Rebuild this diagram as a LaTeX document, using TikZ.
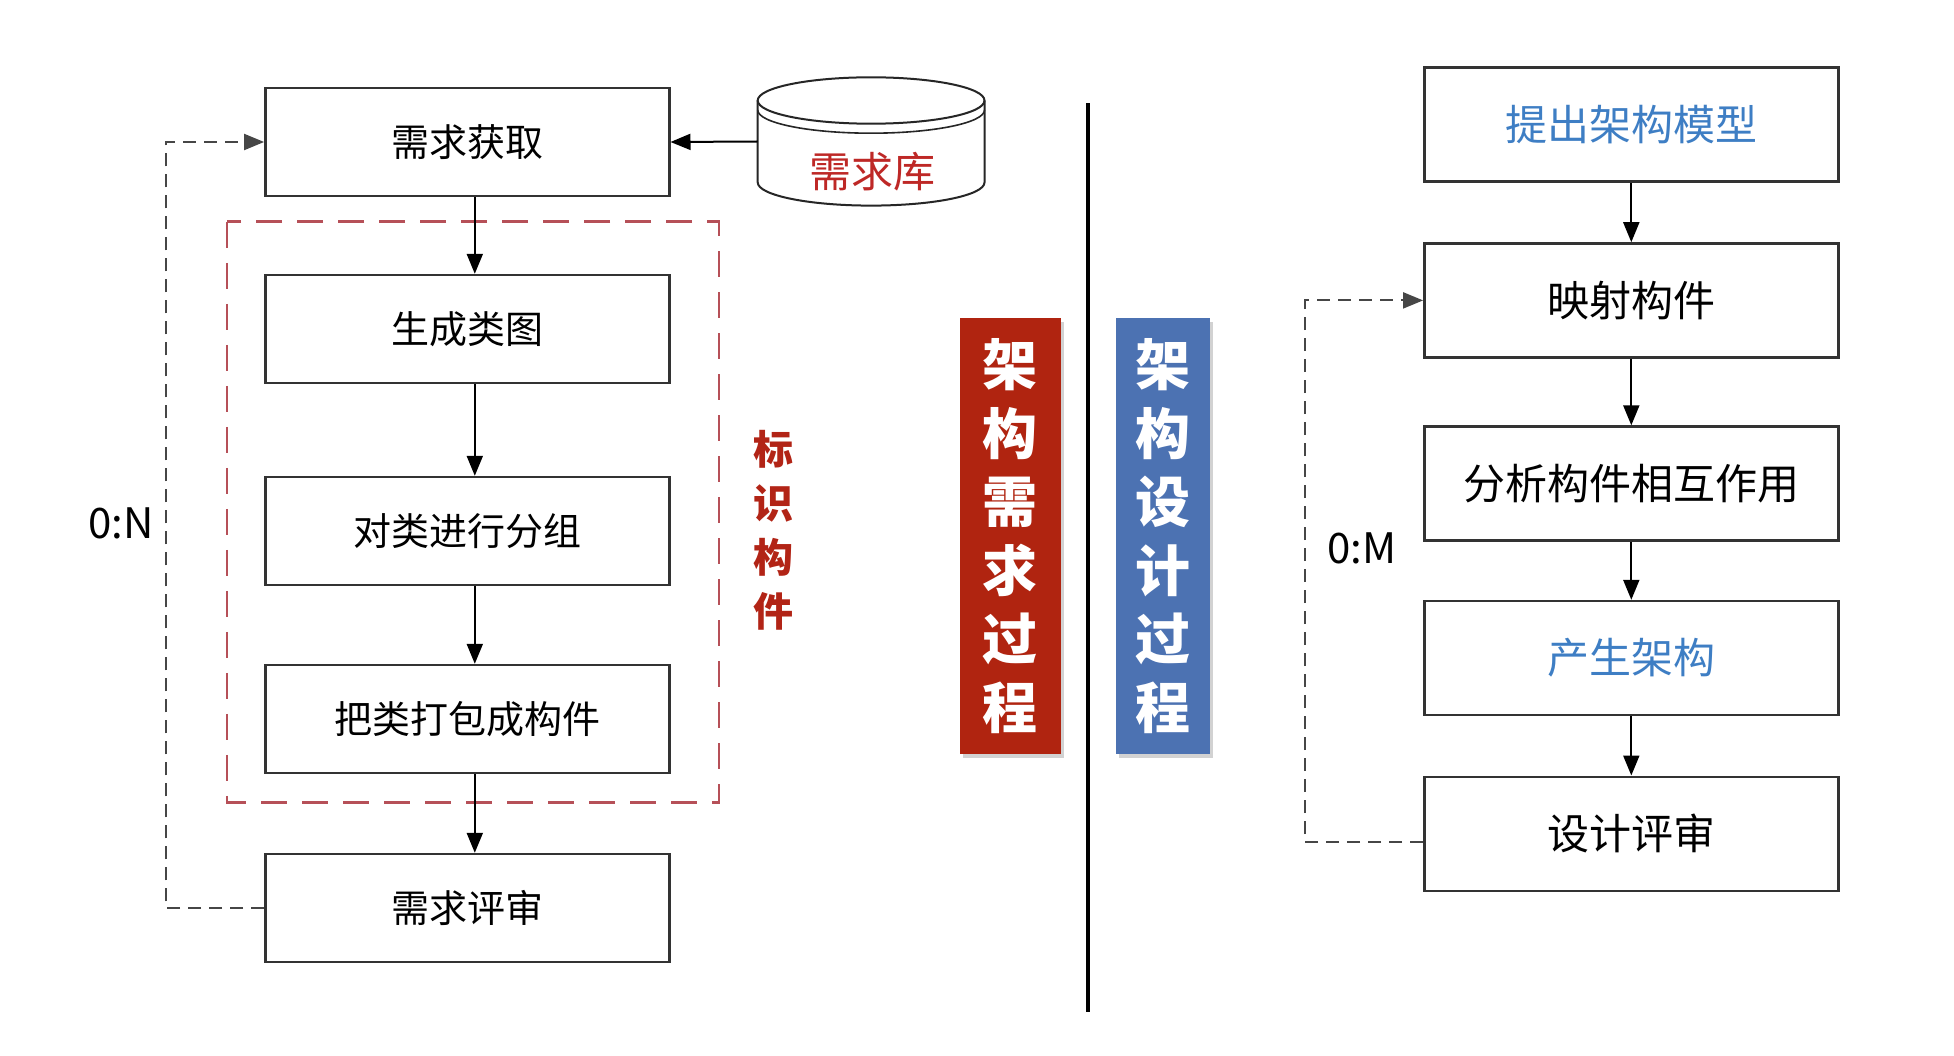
\documentclass[tikz,border=0pt]{standalone}
\usepackage{fontspec}
\setmainfont{Noto Sans CJK SC}
\usetikzlibrary{arrows.meta,shadows,calc}
\definecolor{bannerred}{RGB}{176,36,16}
\definecolor{bannerblue}{RGB}{76,114,178}
\definecolor{textblue}{RGB}{62,126,196}
\definecolor{textred}{RGB}{190,40,38}
\definecolor{labelred}{RGB}{178,36,22}
\definecolor{framered}{RGB}{182,80,88}
\definecolor{loopgray}{RGB}{70,70,70}
\begin{document}
\begin{tikzpicture}[x=1pt,y=1pt,
  stepbox/.style={draw=black!80, line width=2.4pt, fill=white, inner sep=0pt,
    minimum width=404pt, minimum height=108pt, font=\fontsize{38}{40}\selectfont},
  stepboxR/.style={stepbox, minimum width=414pt, minimum height=114pt,
    font=\fontsize{42}{44}\selectfont},
  flow/.style={line width=2pt, -{Triangle[length=20pt,width=16pt]}},
  backloop/.style={draw=loopgray, line width=2pt, dash pattern=on 13pt off 8pt,
    -{Triangle[length=20pt,width=16pt]}},
  grpframe/.style={draw=framered, line width=2.6pt, dash pattern=on 26pt off 15pt},
  banner/.style={minimum height=436pt, inner sep=0pt, text=white,
    font=\fontsize{55}{68.5}\selectfont\bfseries, align=center,
    drop shadow={shadow xshift=3pt, shadow yshift=-4pt, opacity=0.35}},
  ratio/.style={font=\fontsize{42}{44}\selectfont}
]
\useasboundingbox (0,0) rectangle (1954,-1056);
\fill[white] (0,0) rectangle (1954,-1056);

% ---- requirements side ----
\draw[grpframe] (226.8,-221.8) rectangle (719.1,-802.6);

\node[stepbox] (b1) at (467.3,-142) {需求获取};
\node[stepbox] (b2) at (467.3,-329) {生成类图};
\node[stepbox] (b3) at (467.3,-531) {对类进行分组};
\node[stepbox] (b4) at (467.3,-719) {把类打包成构件};
\node[stepbox] (b5) at (467.3,-908) {需求评审};
\coordinate (axL) at (474.8,0);

\foreach \a/\b in {b1/b2,b2/b3,b3/b4,b4/b5}
  \draw[flow] (\a.south -| axL) -- (\b.north -| axL);

% requirement store (database cylinder)
\node[minimum width=226.8pt, minimum height=128.3pt, inner sep=0pt] (db) at (871.1,-141.5) {};
\filldraw[fill=white, draw=black!85, line width=2pt]
  (757.7,-100.5) arc (180:0:113.4 and 23.2) -- (984.5,-182.4)
  arc (360:180:113.4 and 23.2) -- cycle;
\draw[black!85, line width=2pt] (757.7,-100.5) arc (180:360:113.4 and 23.2);
\draw[black!85, line width=1.6pt] (757.7,-110) arc (180:360:113.4 and 23.2);
\node[text=textred, font=\fontsize{42}{44}\selectfont] at (872,-172) {需求库};
\draw[flow] (db.west) -- (b1.east);

\draw[backloop] (b5.west) -- ++(-98.4,0) coordinate (lcorner) |- (b1.west);
\node[ratio, anchor=east] (lN) at (157,-523) {0:N};

\node[text=labelred, font=\fontsize{40}{54}\selectfont\bfseries, align=center]
  (ident) at (773,-530) {标\\识\\构\\件};

% ---- separator and stage banners ----
\coordinate (sepTop) at (1088,-103.4);
\coordinate (sepBot) at (1088,-1011.9);
\draw[line width=3.6pt] (sepTop) -- (sepBot);

\node[banner, fill=bannerred, minimum width=101pt] (reqban) at (1010,-536) {架\\构\\需\\求\\过\\程};
\node[banner, fill=bannerblue, minimum width=94pt] (desban) at (1163.3,-536) {架\\构\\设\\计\\过\\程};

% ---- design side ----
\node[stepboxR, text=textblue] (s1) at (1631.3,-124.6) {提出架构模型};
\node[stepboxR] (s2) at (1631.3,-300.4) {映射构件};
\node[stepboxR] (s3) at (1631.3,-483.5) {分析构件相互作用};
\node[stepboxR, text=textblue] (s4) at (1631.3,-658) {产生架构};
\node[stepboxR] (s5) at (1631.3,-833.7) {设计评审};

\foreach \a/\b in {s1/s2,s2/s3,s3/s4,s4/s5}
  \draw[flow] (\a) -- (\b);

\draw[backloop] ([yshift=-8pt]s5.west) -- ++(-118.4,0) |- (s2.west);
\node[ratio] (rM) at (1362,-548) {0:M};
\end{tikzpicture}
\end{document}
